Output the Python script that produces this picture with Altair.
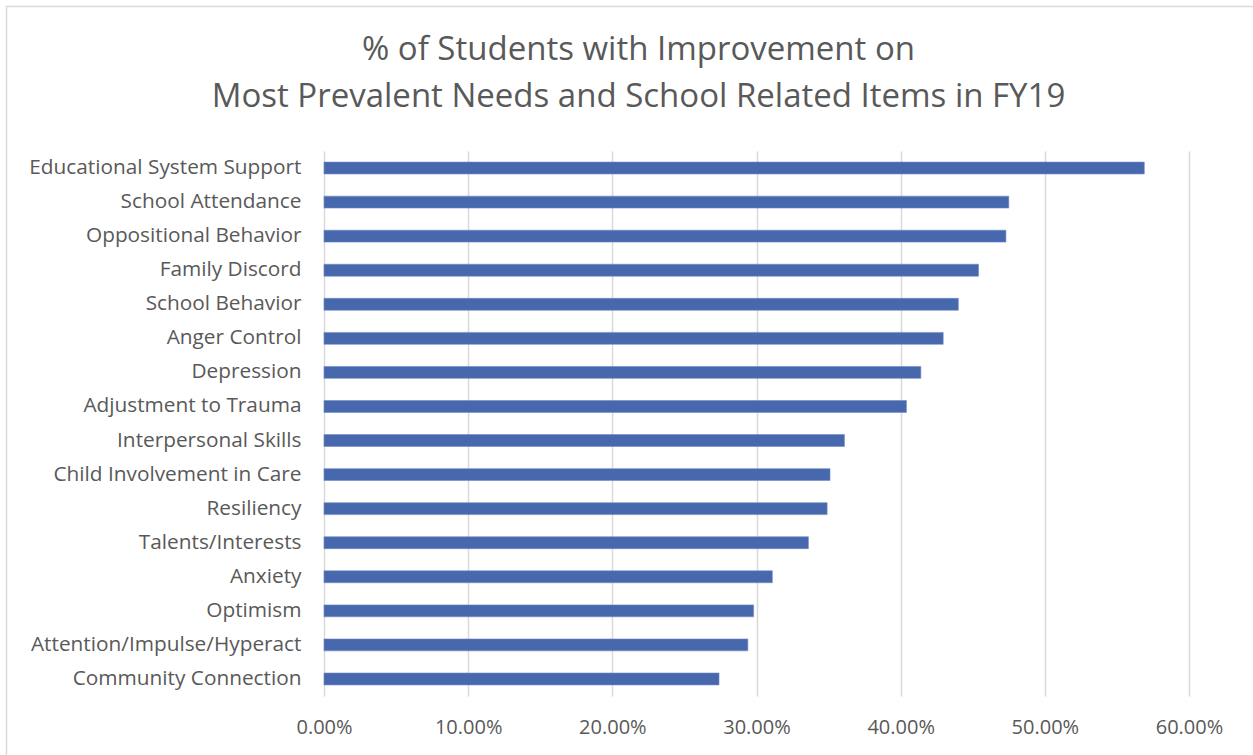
import altair as alt
import pandas as pd

categories = [
    "Educational System Support",
    "School Attendance",
    "Oppositional Behavior",
    "Family Discord",
    "School Behavior",
    "Anger Control",
    "Depression",
    "Adjustment to Trauma",
    "Interpersonal Skills",
    "Child Involvement in Care",
    "Resiliency",
    "Talents/Interests",
    "Anxiety",
    "Optimism",
    "Attention/Impulse/Hyperact",
    "Community Connection",
]
values = [0.569, 0.475, 0.473, 0.454, 0.440, 0.4295, 0.414, 0.404,
          0.361, 0.351, 0.349, 0.336, 0.311, 0.298, 0.294, 0.274]
x_ticks = [0.0, 0.1, 0.2, 0.3, 0.4, 0.5, 0.6]
title_lines = ["% of Students with Improvement on",
               "Most Prevalent Needs and School Related Items in FY19"]

df = pd.DataFrame({"item": categories, "pct": values})

FONT = "Open Sans"
TXT = "#595959"

bars = alt.Chart(df).mark_bar(color="#4868AD", stroke="#6F8AC6", strokeWidth=0.6).encode(
    x=alt.X("pct:Q",
            scale=alt.Scale(domain=[0, 0.6], nice=False, zero=True),
            axis=alt.Axis(values=x_ticks, format=".2%", title=None,
                          grid=True, gridColor="#d9d9d9", gridWidth=1.5,
                          domain=False, ticks=False, labelPadding=21,
                          labelFlush=False,
                          labelFont=FONT, labelFontSize=20, labelColor=TXT)),
    y=alt.Y("item:N", sort=None,
            scale=alt.Scale(paddingInner=0.65, paddingOuter=0.325),
            axis=alt.Axis(title=None, domain=False, ticks=False, grid=False,
                          labelPadding=23, labelFont=FONT, labelFontSize=20.8,
                          labelColor=TXT, labelLimit=400)),
)

frame = alt.Chart(pd.DataFrame({"a": [0]})).mark_rect(
    fill="transparent", stroke="#d9d9d9", strokeWidth=1.5
).encode(
    x=alt.value(6.5 - 324), x2=alt.value(1253 - 324 + 20),
    y=alt.value(6.5 - 151), y2=alt.value(755 - 151 + 20),
)

chart = alt.layer(frame, bars).properties(
    width=865,
    height=545,
    padding={"left": 324, "top": 151, "right": 64, "bottom": 59},
    autosize=alt.AutoSizeParams(type="none"),
    background="white",
    title=alt.TitleParams(text=title_lines, anchor="middle", dx=-118,
                          font=FONT, fontSize=33, fontWeight="normal",
                          color=TXT, lineHeight=47, offset=-108),
).configure_view(stroke=None)

chart.save("out.html", embed_options={"renderer": "svg", "actions": False})
